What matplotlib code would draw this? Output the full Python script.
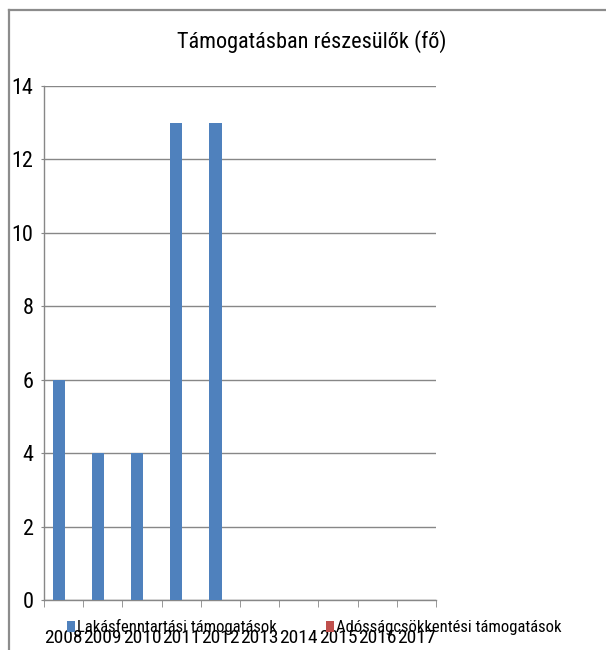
import matplotlib
matplotlib.use("Agg")
import matplotlib.pyplot as plt
from matplotlib.lines import Line2D
from matplotlib.patches import Patch
import numpy as np
from matplotlib import font_manager
import logging
logging.getLogger("matplotlib.font_manager").setLevel(logging.ERROR)

years = ["2008", "2009", "2010", "2011", "2012", "2013", "2014", "2015", "2016", "2017"]
lakas = [6, 4, 4, 13, 13, 0, 0, 0, 0, 0]
adossag = [0, 0, 0, 0, 0, 0, 0, 0, 0, 0]
series_names = ["Lakásfenntartási támogatások", "Adósságcsökkentési támogatások"]
title = "Támogatásban részesülők (fő)"

names = {f.name for f in font_manager.fontManager.ttflist}
pref = ["Roboto Condensed", "Liberation Sans Narrow", "Open Sans Condensed", "Lato", "Liberation Sans"]
fams = [f for f in pref if f in names] + ["DejaVu Sans"]
plt.rcParams['font.family'] = fams

blue = "#4F81BD"
red = "#C0504D"
grid = "#878787"

W, H = 606, 650
fig = plt.figure(figsize=(W / 100, H / 100), dpi=100)
ax = fig.add_axes([44 / W, (H - 600) / H, (436 - 44) / W, (600 - 86) / H])

x = np.arange(len(years))
bw = 0.31
ax.bar(x - 0.125, lakas, width=bw, color=blue, zorder=3)
ax.bar(x + 0.185, adossag, width=bw, color=red, zorder=3)

ax.set_xlim(-0.5, len(years) - 0.5)
ax.set_ylim(0, 14)
ax.set_yticks(range(0, 15, 2))
ax.yaxis.grid(True, color=grid, linewidth=1.0, zorder=0)
ax.set_axisbelow(True)

for s in ["top", "right"]:
    ax.spines[s].set_visible(False)
for s in ["left", "bottom"]:
    ax.spines[s].set_color(grid)
    ax.spines[s].set_linewidth(1.0)

ax.set_xticks(x)
ax.set_xticklabels(years, fontsize=14)
ax.set_xticks(np.arange(-0.5, len(years)), minor=True)
ax.tick_params(axis="x", which="major", length=0, pad=21)
ax.tick_params(axis="x", which="minor", length=5, color=grid, direction="out")
ax.tick_params(axis="y", length=2.5, color=grid, labelsize=16, pad=5)

fig.text(312 / W, 1 - 48 / H, title, ha="center", va="baseline", fontsize=16)

handles = [Patch(facecolor=blue), Patch(facecolor=red)]
fig.legend(handles, series_names, loc="center left", bbox_to_anchor=(67 / W, 1 - 627 / H),
           ncol=2, frameon=False, fontsize=12, handlelength=0.48, handleheight=0.66,
           handletextpad=0.1, columnspacing=3.0, borderaxespad=0, borderpad=0)

# outer chart border (partially visible)
fig.add_artist(Line2D([8.5 / W, 8.5 / W], [0, 1 - 9.5 / H], transform=fig.transFigure,
                      color="#8c8c8c", linewidth=1.6))
fig.add_artist(Line2D([8.5 / W, 1], [1 - 9.5 / H, 1 - 9.5 / H], transform=fig.transFigure,
                      color="#8c8c8c", linewidth=1.6))

fig.savefig("out.png", dpi=100, facecolor="white")
